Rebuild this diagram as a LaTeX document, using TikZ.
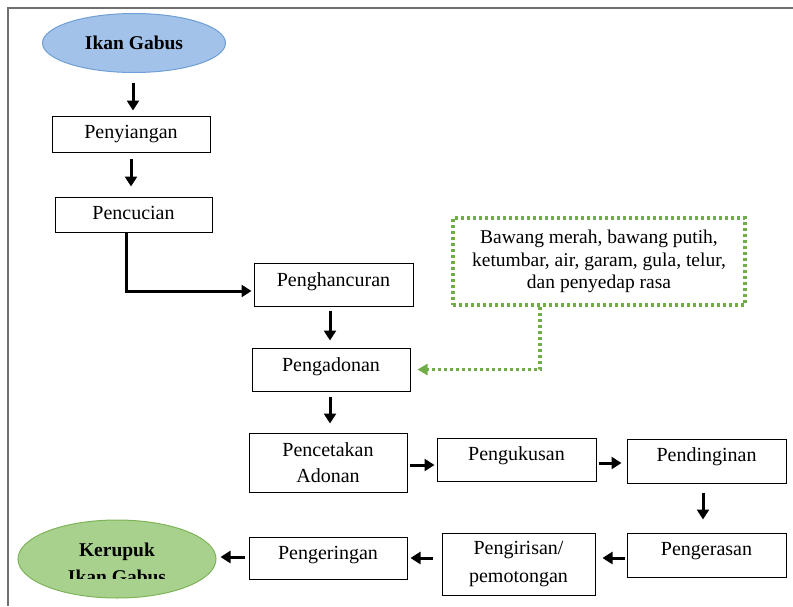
\documentclass[tikz,border=0pt]{standalone}
\usepackage{fontspec}
\setmainfont{Liberation Serif}
\usetikzlibrary{arrows.meta,shapes.geometric}
\definecolor{frameC}{HTML}{707070}
\definecolor{blueF}{HTML}{A3C2E9}
\definecolor{blueD}{HTML}{6E9FD6}
\definecolor{greenF}{HTML}{A9D18E}
\definecolor{greenD}{HTML}{7DB457}
\definecolor{dotG}{HTML}{70AD47}
\begin{document}
\begin{tikzpicture}[x=1pt,y=-1pt,
  every node/.style={font=\fontsize{20}{26}\selectfont},
  stepbox/.style={draw=black,line width=1pt,inner sep=0pt,align=center},
  onebox/.style={stepbox,text height=13.5pt,text depth=4.5pt},
  startend/.style={ellipse,inner sep=0pt,line width=1pt},
  arr/.style={line width=3pt,-{Triangle[length=10pt,width=12pt]}},
  addbox/.style={draw=dotG,line width=3.5pt,dash pattern=on 3pt off 3pt,inner sep=0pt,align=center},
  addarr/.style={draw=dotG,line width=3.5pt,dash pattern=on 3pt off 3pt,
    -{Triangle[length=10pt,width=11pt,fill=dotG,color=dotG]}}]
\useasboundingbox (0,0) rectangle (793,606);
% frame
\draw[frameC,line width=2pt] (793,7.5) -- (7.5,7.5) -- (7.5,606);

% start and end
\node[startend,draw=blueD,fill=blueF,minimum width=183pt,minimum height=59pt,
  font=\fontsize{19.5}{26}\selectfont\bfseries] (ikan) at (134,43) {Ikan Gabus};
\node[startend,draw=greenD,fill=greenF,minimum width=198pt,minimum height=78pt] (krp) at (117,559) {};
\begin{scope}
  \clip (18,520) rectangle (216,578);
  \node[align=center,font=\fontsize{19.5}{27}\selectfont\bfseries] (krptxt) at (117,563) {Kerupuk\\Ikan Gabus};
\end{scope}

% process steps
\node[onebox,minimum width=158pt,minimum height=36pt] (siang) at (131,134) {Penyiangan};
\node[onebox,minimum width=157pt,minimum height=35pt] (cuci) at (133.5,214.5) {Pencucian};
\node[onebox,minimum width=159pt,minimum height=43pt,text depth=10pt] (hanc) at (333.5,284.5) {Penghancuran};
\node[onebox,minimum width=158pt,minimum height=43pt,text depth=10pt] (adon) at (331,369.5) {Pengadonan};
\node[stepbox,minimum width=158pt,minimum height=59pt] (cetak) at (328,462.5) {Pencetakan\\Adonan};
\node[onebox,minimum width=159pt,minimum height=43pt,text depth=12pt] (kukus) at (516.5,459.5) {Pengukusan};
\node[onebox,minimum width=159pt,minimum height=44pt,text depth=12pt] (dingin) at (706.5,461) {Pendinginan};
\node[onebox,minimum width=159pt,minimum height=44pt,text depth=13pt] (keras) at (706.5,555) {Pengerasan};
\node[stepbox,minimum width=153pt,minimum height=62pt,font=\fontsize{20}{28}\selectfont] (iris) at (518.5,564) {Pengirisan/\\pemotongan};
\node[onebox,minimum width=158pt,minimum height=42pt,text depth=10pt] (kering) at (328,558) {Pengeringan};

% additional ingredients
\node[addbox,minimum width=292pt,minimum height=87pt,font=\fontsize{19.5}{22.5}\selectfont] (bahan) at (599,261.5)
  {Bawang merah, bawang putih,\\ketumbar, air, garam, gula, telur,\\dan penyedap rasa};

% flow
\draw[arr,shorten <=9.5pt,shorten >=5pt] ([xshift=-1pt]ikan.south) -- ([xshift=-1pt]ikan.south |- siang.north);
\draw[arr,shorten <=6pt,shorten >=10pt] (siang.south) -- (siang.south |- cuci.north);
\draw[arr,shorten >=2pt] ([xshift=-7.5pt]cuci.south) |- ([yshift=-6.5pt]hanc.west);
\draw[arr,shorten <=4pt,shorten >=7pt] ([xshift=-3.5pt]hanc.south) -- ([xshift=-3.5pt]hanc.south |- adon.north);
\draw[arr,shorten <=5pt,shorten >=9pt] ([xshift=-1pt]adon.south) -- ([xshift=-1pt]adon.south |- cetak.north);
\draw[arr,shorten <=2pt,shorten >=2pt] ([yshift=-2.5pt]cetak.east) -- ([yshift=-2.5pt]cetak.east -| kukus.west);
\draw[arr,shorten <=2pt,shorten >=5pt] ([yshift=-3.5pt]kukus.east) -- ([yshift=-3.5pt]kukus.east -| dingin.west);
\draw[arr,shorten <=9pt,shorten >=13pt] ([xshift=-3.5pt]dingin.south) -- ([xshift=-3.5pt]dingin.south |- keras.north);
\draw[arr,shorten <=2pt,shorten >=7pt] ([yshift=-3pt]keras.west) -- ([yshift=-3pt]keras.west -| iris.east);
\draw[arr,shorten <=9pt,shorten >=3pt] (iris.west |- kering.east) -- (kering.east);
\draw[arr,shorten <=4pt,shorten >=4pt] ([yshift=1pt]kering.west) -- ([yshift=1pt]kering.west -| krp.east);
\draw[addarr,shorten >=7pt] ([xshift=-59pt]bahan.south) |- (adon.east);
\end{tikzpicture}
\end{document}
